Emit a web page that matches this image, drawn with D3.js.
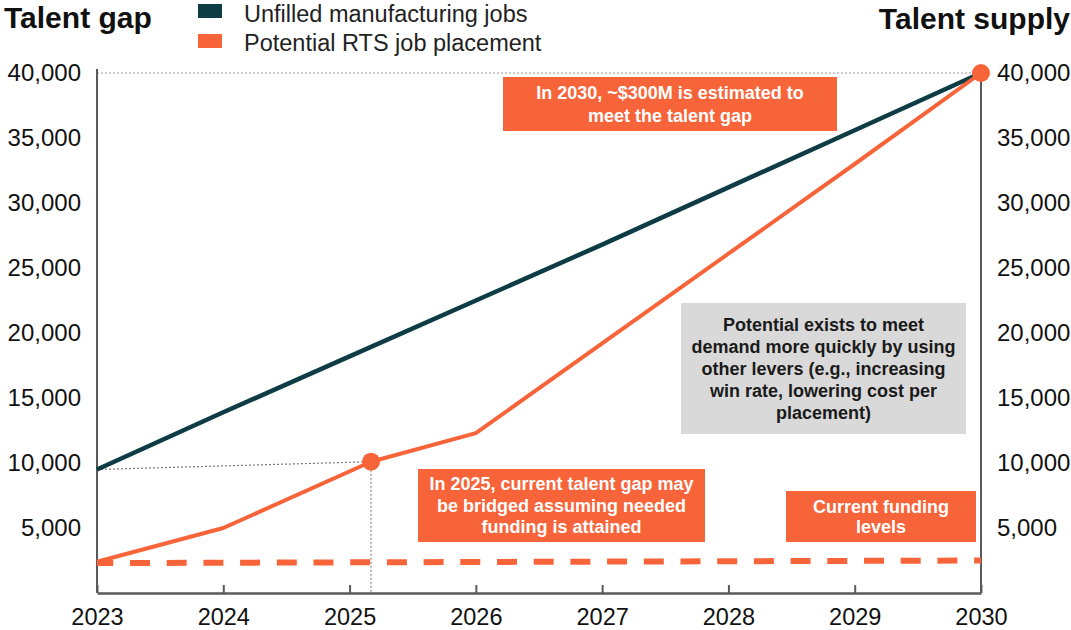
<!DOCTYPE html>
<html>
<head>
<meta charset="utf-8">
<script src="https://cdn.jsdelivr.net/npm/d3@7"></script>
<style>
  html, body { margin: 0; padding: 0; background: #fff; }
  svg { display: block; font-family: "Liberation Sans", Arial, sans-serif; }
</style>
</head>
<body>
<svg id="chart" width="1071" height="630"></svg>
<script>
// Years on the horizontal axis
const years = [2023, 2024, 2025, 2026, 2027, 2028, 2029, 2030];
// Unfilled manufacturing jobs (talent gap)
const unfilledJobs = [9500, 13900, 18200, 22500, 26800, 31200, 35600, 40000];
// Potential RTS job placement (talent supply)
const placementYears = [2023, 2024, 2025.17, 2026, 2027, 2028, 2029, 2030];
const placementJobs = [2400, 5000, 10100, 12300, 19200, 26100, 33000, 40000];
// Placements reachable at current funding levels
const fundingYears = [2023, 2030];
const fundingJobs = [2300, 2500];
// Value axis ticks
const valueTicks = [5000, 10000, 15000, 20000, 25000, 30000, 35000, 40000];

const seriesNames = ["Unfilled manufacturing jobs", "Potential RTS job placement"];
const noteTarget = ["In 2030, ~$300M is estimated to", "meet the talent gap"];
const noteBridge = ["In 2025, current talent gap may", "be bridged assuming needed", "funding is attained"];
const noteFunding = ["Current funding", "levels"];
const noteLevers = ["Potential exists to meet", "demand more quickly by using", "other levers (e.g., increasing", "win rate, lowering cost per", "placement)"];

const TEAL = "#0d3c45";
const ORANGE = "#f8643a";
const AXIS = "#5a5a5a";
const FONT = "Liberation Sans, Arial, sans-serif";

const svg = d3.select("#chart");
const x = d3.scaleLinear().domain([2023, 2030]).range([97, 981]);
const y = d3.scaleLinear().domain([0, 40000]).range([593, 73]);
const fmt = d3.format(",");

// Titles
svg.append("text").attr("x", 4).attr("y", 28)
  .attr("font-size", 30).attr("font-weight", "bold").attr("fill", "#111")
  .text("Talent gap");
svg.append("text").attr("x", 1070).attr("y", 29).attr("text-anchor", "end")
  .attr("font-size", 30).attr("font-weight", "bold").attr("fill", "#111")
  .text("Talent supply");

// Legend
const legend = svg.append("g");
[TEAL, ORANGE].forEach((c, i) => {
  legend.append("rect").attr("x", 198).attr("y", 4 + i * 30).attr("width", 24).attr("height", 14).attr("fill", c);
  legend.append("text").attr("x", 244).attr("y", 22 + i * 29)
    .attr("font-size", 23.5).attr("fill", "#222").text(seriesNames[i]);
});

// Reference line at 40,000
svg.append("line")
  .attr("x1", x(2023)).attr("x2", x(2030))
  .attr("y1", y(40000)).attr("y2", y(40000))
  .attr("stroke", "#999").attr("stroke-width", 1.2).attr("stroke-dasharray", "2,2");

// Left value axis
const left = svg.append("g").attr("transform", `translate(${x(2023)},0)`)
  .call(d3.axisLeft(y).tickValues(valueTicks).tickFormat(fmt).tickSize(0).tickPadding(16));
left.select(".domain").attr("stroke", AXIS).attr("stroke-width", 2).attr("d", `M0,${y(40000) - 4}V${y(0)}`);
left.selectAll("text").attr("font-size", 24).attr("fill", "#111").attr("font-family", FONT);

// Right value axis
const right = svg.append("g").attr("transform", `translate(${x(2030)},0)`)
  .call(d3.axisRight(y).tickValues(valueTicks).tickFormat(fmt).tickSize(0).tickPadding(16));
right.select(".domain").attr("stroke", AXIS).attr("stroke-width", 2).attr("d", `M0,${y(40000)}V${y(0)}`);
right.selectAll("text").attr("font-size", 24).attr("fill", "#111").attr("font-family", FONT);

// Bottom year axis with inward ticks
const bottom = svg.append("g").attr("transform", `translate(0,${y(0)})`)
  .call(d3.axisBottom(x).tickValues(years).tickFormat(d3.format("d")).tickSizeInner(-8).tickSizeOuter(0).tickPadding(15));
bottom.select(".domain").attr("stroke", AXIS).attr("stroke-width", 2.5);
bottom.selectAll(".tick line").attr("stroke", AXIS).attr("stroke-width", 2);
bottom.selectAll("text").attr("font-size", 23.5).attr("fill", "#111").attr("font-family", FONT);

// Guide lines to the 2025 milestone
const milestoneX = placementYears[2], milestoneY = placementJobs[2];
svg.append("line")
  .attr("x1", x(2023)).attr("y1", y(unfilledJobs[0]))
  .attr("x2", x(milestoneX)).attr("y2", y(milestoneY))
  .attr("stroke", "#777").attr("stroke-width", 1.2).attr("stroke-dasharray", "2,2");
svg.append("line")
  .attr("x1", x(milestoneX)).attr("y1", y(milestoneY))
  .attr("x2", x(milestoneX)).attr("y2", y(0))
  .attr("stroke", "#888").attr("stroke-width", 1.2).attr("stroke-dasharray", "2,2");

const line = d3.line().x(d => x(d[0])).y(d => y(d[1]));

// Current funding level (dashed)
svg.append("path")
  .datum(d3.zip(fundingYears, fundingJobs))
  .attr("d", line).attr("fill", "none")
  .attr("stroke", ORANGE).attr("stroke-width", 6)
  .attr("stroke-dasharray", "20,16.7").attr("stroke-dashoffset", 3.7);

// Unfilled manufacturing jobs
svg.append("path")
  .datum(d3.zip(years, unfilledJobs))
  .attr("d", line).attr("fill", "none")
  .attr("stroke", TEAL).attr("stroke-width", 4.5).attr("stroke-linejoin", "round");

// Potential RTS job placement
svg.append("path")
  .datum(d3.zip(placementYears, placementJobs))
  .attr("d", line).attr("fill", "none")
  .attr("stroke", ORANGE).attr("stroke-width", 4).attr("stroke-linejoin", "round");

// Milestone markers
[[milestoneX, milestoneY], [placementYears[7], placementJobs[7]]].forEach(p => {
  svg.append("circle").attr("cx", x(p[0])).attr("cy", y(p[1])).attr("r", 9).attr("fill", ORANGE);
});

// Annotation boxes
function note(lines, bx, by, bw, bh, fill, color, lh, size) {
  const g = svg.append("g");
  g.append("rect").attr("x", bx).attr("y", by).attr("width", bw).attr("height", bh).attr("fill", fill);
  const cy = by + bh / 2 - (lines.length - 1) * lh / 2;
  lines.forEach((t, i) => {
    g.append("text").attr("x", bx + bw / 2).attr("y", cy + i * lh)
      .attr("dy", "0.36em").attr("text-anchor", "middle")
      .attr("font-size", size).attr("font-weight", "bold").attr("fill", color).text(t);
  });
}
note(noteTarget, 503, 77, 334, 54, ORANGE, "#fff", 23, 18);
note(noteBridge, 418, 469, 287, 73, ORANGE, "#fff", 21.5, 18);
note(noteFunding, 786, 491, 190, 51, ORANGE, "#fff", 20.5, 18);
note(noteLevers, 681, 303, 285, 131, "#d9d9d9", "#1a1a1a", 22.2, 18);
</script>
</body>
</html>
